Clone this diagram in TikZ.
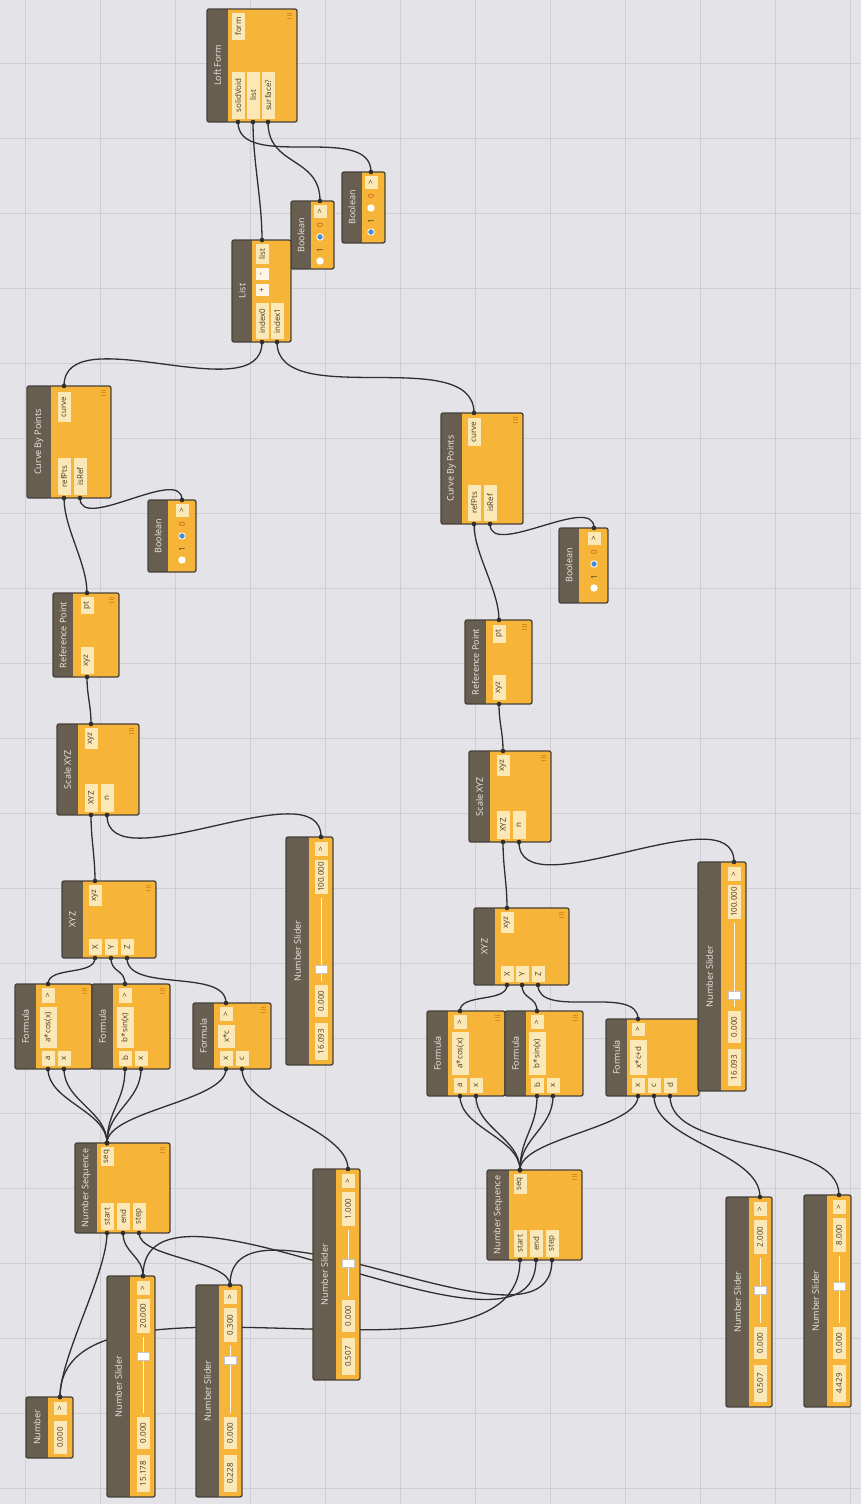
\documentclass[tikz,border=0pt]{standalone}
\usepackage{fontspec}
\setmainfont{Open Sans}
\usetikzlibrary{fit}

\definecolor{canvas}{HTML}{E4E4E8}
\definecolor{gridc}{HTML}{CECED4}
\definecolor{nodeor}{HTML}{F6B538}
\definecolor{nodehd}{HTML}{675E50}
\definecolor{nodebd}{HTML}{45403A}
\definecolor{portbg}{HTML}{FCE7B6}
\definecolor{porttx}{HTML}{4A3B22}
\definecolor{ttlc}{HTML}{EFEBE3}
\definecolor{wirec}{HTML}{2F2F2F}
\definecolor{lacec}{HTML}{D98C1A}
\definecolor{zerotx}{HTML}{C4531C}
\definecolor{radioon}{HTML}{4A8BD0}

\pgfdeclarelayer{gridlayer}
\pgfdeclarelayer{wirelayer}
\pgfsetlayers{gridlayer,wirelayer,main}

\tikzset{
  body/.style={fill=nodeor, inner sep=0pt, outer sep=0pt},
  ttl/.style={rotate=90, text=ttlc, inner sep=0pt, font=\fontsize{9}{10}\selectfont},
  port/.style={rotate=90, fill=portbg, text=porttx, inner sep=0pt, outer sep=0pt,
    minimum height=13pt, font=\fontsize{8}{9}\selectfont},
  bit/.style={rotate=90, text=porttx, inner sep=0pt, font=\fontsize{8}{9}\selectfont},
  radio/.style={circle, draw=white, line width=0.8pt, inner sep=0pt, minimum size=6.5pt},
  thumb/.style={draw=gray!45, fill=white, inner sep=0pt, minimum width=12pt, minimum height=8pt},
  track/.style={draw=white!75!portbg, line width=1pt},
  wire/.style={draw=wirec, line width=1.3pt},
}

% node box: name, x1, y1, x2, y2, header width, title
\newcommand{\dynbox}[7]{%
  \coordinate (#1-a) at (#2,#3);
  \coordinate (#1-b) at (#4,#5);
  \node[body, fit=(#1-a)(#1-b)] (#1) {};
  \fill[nodehd] (#1.north west) rectangle ([xshift=#6pt]#1.south west);
  \draw[nodebd, line width=1.3pt, rounded corners=2pt] (#1.north west) rectangle (#1.south east);
  \node[ttl] (#1-t) at ([xshift=#6pt/2]#1.west) {#7};
}
% port: [opts] name, x, y1, y2, text
\newcommand{\port}[6][]{%
  \node[port, #1, minimum width={((#5)-(#4))*1pt}] (#2) at ({#3},{((#4)+(#5))/2}) {#6};
}
\newcommand{\lace}[1]{%
  \foreach \d in {0,2.5,5}
    \draw[lacec, line width=0.7pt] ([xshift=-10pt, yshift={-(4+\d)*1pt}]#1.north east) -- ++(5pt,0pt);
}
% boolean: name, x1, y1, x2, y2, fill of 0, fill of 1
\newcommand{\boolnode}[7]{%
  \dynbox{#1}{#2}{#3}{#4}{#5}{20}{Boolean}
  \port{#1-o}{#4-14}{#3+4}{#3+17}{>}
  \node[bit, text=zerotx] (#1-z) at (#4-14,#3+24) {0};
  \node[radio, fill=#6] (#1-r0) at (#4-14,#3+36) {};
  \node[bit] (#1-u) at (#4-14,#3+49) {1};
  \node[radio, fill=#7] (#1-r1) at (#4-14,#3+60) {};
}
% slider: name, x1, y1, x2, y2, max, min, value, thumb y
\newcommand{\slider}[9]{%
  \dynbox{#1}{#2}{#3}{#4}{#5}{23}{Number Slider}
  \port{#1-o}{#4-12}{#3+5}{#3+19}{>}
  \port{#1-max}{#4-12}{#3+23}{#3+57}{#6}
  \draw[track] (#4-12,#3+61) -- (#4-12,#5-84);
  \node[thumb] (#1-th) at (#4-12,#9) {};
  \port{#1-min}{#4-12}{#5-80}{#5-48}{#7}
  \port{#1-val}{#4-12}{#5-42}{#5-5}{#8}
}
% wire: from output port/node to input port/node, bend
\newcommand{\wire}[5]{%
  \begin{pgfonlayer}{wirelayer}
    \draw[wire] (#1 |- #2.north) .. controls +(0,-#5) and +(0,#5) .. (#3 |- #4.south);
  \end{pgfonlayer}
  \fill[wirec] (#1 |- #2.north) circle (2.3pt) (#3 |- #4.south) circle (2.3pt);
}

\begin{document}
\begin{tikzpicture}[x=1pt,y=-1pt]
  \useasboundingbox (0,0) rectangle (861,1504);

  % Canvas
  \begin{pgfonlayer}{gridlayer}
    \fill[canvas] (0,0) rectangle (861,1504);
    \foreach \gx in {25,100,...,850} \draw[gridc, line width=0.8pt] (\gx,0) -- (\gx,1504);
    \foreach \gy in {63,138,...,1488} \draw[gridc, line width=0.8pt] (0,\gy) -- (861,\gy);
  \end{pgfonlayer}

  % Loft Form and its inputs
  \dynbox{lf}{207}{9}{297}{122}{21}{Loft Form}
  \port{lf-o}{238}{13}{40}{form}
  \port{lf-i1}{238}{72}{119}{solidVoid}
  \port{lf-i2}{253}{72}{119}{list}
  \port{lf-i3}{268}{72}{119}{surface?}
  \lace{lf}
  \boolnode{bo1}{291}{201}{334}{269}{radioon}{white}
  \boolnode{bo2}{342}{172}{385}{243}{white}{radioon}

  \dynbox{ls}{232}{240}{291}{342}{20}{List}
  \port{ls-o}{262}{244}{264}{list}
  \port[fill=portbg!40!white]{ls-m}{262}{268}{280}{-}
  \port[fill=portbg!40!white]{ls-p}{262}{284}{296}{+}
  \port{ls-i1}{262}{303}{339}{index0}
  \port{ls-i2}{277}{303}{339}{index1}

  % Left branch
  \dynbox{cl}{27}{386}{111}{498}{24}{Curve By Points}
  \port{cl-o}{64}{392}{422}{curve}
  \port{cl-i1}{64}{458}{495}{refPts}
  \port{cl-i2}{80}{458}{495}{isRef}
  \lace{cl}
  \boolnode{bo3}{148}{500}{196}{572}{radioon}{white}

  \dynbox{rl}{53}{593}{119}{677}{20}{Reference Point}
  \port{rl-o}{87}{597}{614}{pt}
  \port{rl-i}{87}{647}{674}{xyz}
  \lace{rl}

  \dynbox{sl}{57}{724}{139}{815}{21}{Scale XYZ}
  \port{sl-o}{91}{728}{749}{xyz}
  \port{sl-i1}{91}{784}{812}{XYZ}
  \port{sl-i2}{107}{784}{812}{n}
  \lace{sl}

  \slider{s100l}{286}{837}{333}{1065}{100.000}{0.000}{16.093}{969}

  \dynbox{xl}{62}{881}{156}{958}{21}{XYZ}
  \port{xl-o}{95}{885}{906}{xyz}
  \port{xl-i1}{95}{939}{955}{X}
  \port{xl-i2}{111}{939}{955}{Y}
  \port{xl-i3}{127}{939}{955}{Z}
  \lace{xl}

  \dynbox{fa}{15}{984}{92}{1069}{21}{Formula}
  \port{fa-o}{48}{988}{1003}{>}
  \port[minimum height=17pt]{fa-f}{48}{1007}{1048}{a*cos(x)}
  \port{fa-i1}{48}{1051}{1066}{a}
  \port{fa-i2}{64}{1051}{1066}{x}
  \lace{fa}

  \dynbox{fb}{92}{984}{170}{1069}{21}{Formula}
  \port{fb-o}{125}{988}{1003}{>}
  \port[minimum height=17pt]{fb-f}{125}{1007}{1048}{b*sin(x)}
  \port{fb-i1}{125}{1051}{1066}{b}
  \port{fb-i2}{141}{1051}{1066}{x}
  \lace{fb}

  \dynbox{fc}{193}{1003}{271}{1069}{21}{Formula}
  \port{fc-o}{226}{1007}{1021}{>}
  \port[minimum height=17pt]{fc-f}{226}{1025}{1048}{x*c}
  \port{fc-i1}{226}{1051}{1066}{x}
  \port{fc-i2}{242}{1051}{1066}{c}
  \lace{fc}

  \dynbox{nl}{75}{1143}{170}{1233}{22}{Number Sequence}
  \port{nl-o}{107}{1147}{1166}{seq}
  \port{nl-i1}{107}{1203}{1230}{start}
  \port{nl-i2}{123}{1203}{1230}{end}
  \port{nl-i3}{139}{1203}{1230}{step}
  \lace{nl}

  \dynbox{nm}{26}{1397}{73}{1458}{22}{Number}
  \port{nm-o}{60}{1402}{1415}{>}
  \port{nm-v}{60}{1421}{1454}{0.000}

  \slider{s20}{107}{1276}{155}{1497}{20.000}{0.000}{15.178}{1356}
  \slider{s03}{196}{1285}{242}{1497}{0.300}{0.000}{0.228}{1360}
  \slider{s1}{313}{1169}{360}{1380}{1.000}{0.000}{0.507}{1263}

  % Right branch
  \dynbox{cr}{441}{413}{523}{524}{21}{Curve By Points}
  \port{cr-o}{474}{418}{446}{curve}
  \port{cr-i1}{474}{485}{521}{refPts}
  \port{cr-i2}{490}{485}{521}{isRef}
  \lace{cr}
  \boolnode{bo4}{559}{528}{608}{603}{radioon}{white}

  \dynbox{rr}{465}{620}{532}{704}{21}{Reference Point}
  \port{rr-o}{499}{625}{643}{pt}
  \port{rr-i}{499}{675}{700}{xyz}
  \lace{rr}

  \dynbox{sr}{469}{751}{551}{842}{21}{Scale XYZ}
  \port{sr-o}{503}{755}{776}{xyz}
  \port{sr-i1}{503}{811}{839}{XYZ}
  \port{sr-i2}{519}{811}{839}{n}
  \lace{sr}

  \dynbox{xr}{474}{908}{569}{985}{21}{XYZ}
  \port{xr-o}{507}{912}{933}{xyz}
  \port{xr-i1}{507}{966}{982}{X}
  \port{xr-i2}{522}{966}{982}{Y}
  \port{xr-i3}{538}{966}{982}{Z}
  \lace{xr}

  \dynbox{fd}{427}{1011}{505}{1096}{21}{Formula}
  \port{fd-o}{460}{1015}{1029}{>}
  \port[minimum height=17pt]{fd-f}{460}{1032}{1075}{a*cos(x)}
  \port{fd-i1}{460}{1078}{1093}{a}
  \port{fd-i2}{476}{1078}{1093}{x}
  \lace{fd}

  \dynbox{fe}{505}{1011}{583}{1096}{21}{Formula}
  \port{fe-o}{537}{1015}{1029}{>}
  \port[minimum height=17pt]{fe-f}{537}{1032}{1075}{b*sin(x)}
  \port{fe-i1}{537}{1078}{1093}{b}
  \port{fe-i2}{553}{1078}{1093}{x}
  \lace{fe}

  \dynbox{ff}{606}{1019}{699}{1096}{21}{Formula}
  \port{ff-o}{638}{1023}{1036}{>}
  \port[minimum height=17pt]{ff-f}{638}{1040}{1075}{x*c+d}
  \port{ff-i1}{638}{1078}{1093}{x}
  \port{ff-i2}{654}{1078}{1093}{c}
  \port{ff-i3}{670}{1078}{1093}{d}

  \slider{s100r}{698}{862}{746}{1091}{100.000}{0.000}{16.093}{995}

  \dynbox{nr}{487}{1170}{582}{1260}{22}{Number Sequence}
  \port{nr-o}{520}{1174}{1194}{seq}
  \port{nr-i1}{520}{1230}{1257}{start}
  \port{nr-i2}{536}{1230}{1257}{end}
  \port{nr-i3}{552}{1230}{1257}{step}
  \lace{nr}

  \slider{s2}{726}{1197}{772}{1407}{2.000}{0.000}{0.507}{1290}
  \slider{s8}{804}{1195}{851}{1407}{8.000}{0.000}{4.429}{1286}

  % Wires, top part
  \wire{ls-o}{ls}{lf-i2}{lf}{40}
  \wire{bo1-o}{bo1}{lf-i3}{lf}{45}
  \wire{bo2-o}{bo2}{lf-i1}{lf}{50}
  \wire{cl-o}{cl}{ls-i1}{ls}{70}
  \wire{cr-o}{cr}{ls-i2}{ls}{70}

  % Wires, left branch
  \wire{rl-o}{rl}{cl-i1}{cl}{30}
  \wire{bo3-o}{bo3}{cl-i2}{cl}{35}
  \wire{sl-o}{sl}{rl-i}{rl}{20}
  \wire{xl-o}{xl}{sl-i1}{sl}{25}
  \wire{s100l-o}{s100l}{sl-i2}{sl}{70}
  \wire{fa-o}{fa}{xl-i1}{xl}{18}
  \wire{fb-o}{fb}{xl-i2}{xl}{15}
  \wire{fc-o}{fc}{xl-i3}{xl}{35}
  \foreach \tp/\tn in {fa-i1/fa,fa-i2/fa,fb-i1/fb,fb-i2/fb,fc-i1/fc}
    {\wire{nl-o}{nl}{\tp}{\tn}{32}}
  \wire{s1-o}{s1}{fc-i2}{fc}{40}
  \wire{nm-o}{nm}{nl-i1}{nl}{40}
  \wire{s20-o}{s20}{nl-i2}{nl}{20}
  \wire{s03-o}{s03}{nl-i3}{nl}{25}

  % Wires, right branch
  \wire{nm-o}{nm}{nr-i1}{nr}{150}
  \wire{s20-o}{s20}{nr-i2}{nr}{130}
  \wire{s03-o}{s03}{nr-i3}{nr}{110}
  \wire{rr-o}{rr}{cr-i1}{cr}{30}
  \wire{bo4-o}{bo4}{cr-i2}{cr}{35}
  \wire{sr-o}{sr}{rr-i}{rr}{20}
  \wire{xr-o}{xr}{sr-i1}{sr}{25}
  \wire{s100r-o}{s100r}{sr-i2}{sr}{70}
  \wire{fd-o}{fd}{xr-i1}{xr}{18}
  \wire{fe-o}{fe}{xr-i2}{xr}{15}
  \wire{ff-o}{ff}{xr-i3}{xr}{35}
  \foreach \tp/\tn in {fd-i1/fd,fd-i2/fd,fe-i1/fe,fe-i2/fe,ff-i1/ff}
    {\wire{nr-o}{nr}{\tp}{\tn}{32}}
  \wire{s2-o}{s2}{ff-i2}{ff}{45}
  \wire{s8-o}{s8}{ff-i3}{ff}{60}
\end{tikzpicture}
\end{document}
